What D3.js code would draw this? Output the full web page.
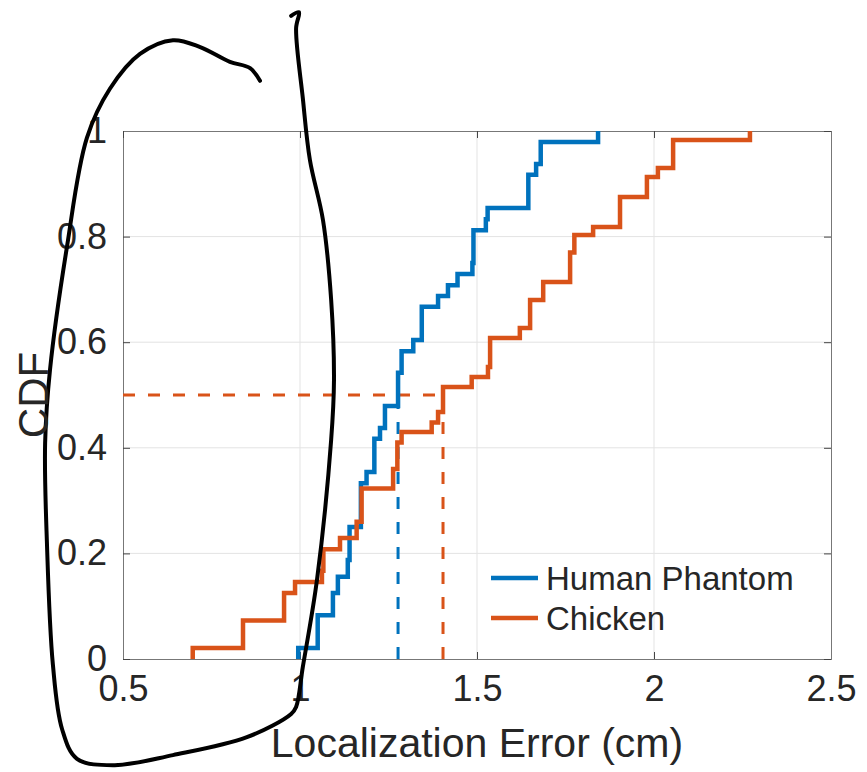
<!DOCTYPE html>
<html>
<head>
<meta charset="utf-8">
<script src="https://cdn.jsdelivr.net/npm/d3@7"></script>
<style>
  html, body { margin: 0; padding: 0; background: #fff; }
  text { font-family: "Liberation Sans", Arial, Helvetica, sans-serif; fill: #262626; }
</style>
</head>
<body>
<div id="chart"></div>
<script>
const phantomSteps = [
    [0.995, 0.021], [1.05, 0.083], [1.093, 0.125], [1.107, 0.156], [1.135, 0.1875],
    [1.14, 0.25], [1.172, 0.333], [1.188, 0.354], [1.21, 0.417], [1.226, 0.4375],
    [1.24, 0.479], [1.277, 0.542], [1.287, 0.583], [1.32, 0.604], [1.344, 0.667],
    [1.39, 0.6875], [1.418, 0.708], [1.445, 0.729], [1.487, 0.75], [1.49, 0.812],
    [1.525, 0.833], [1.53, 0.854], [1.645, 0.917], [1.667, 0.9375], [1.68, 0.979],
    [1.842, 1.0]
];
const chickenSteps = [
    [0.697, 0.021], [0.839, 0.073], [0.955, 0.125], [0.986, 0.146], [1.062, 0.167],
    [1.066, 0.208], [1.113, 0.229], [1.16, 0.26], [1.174, 0.323], [1.263, 0.36],
    [1.275, 0.41], [1.287, 0.43], [1.372, 0.448], [1.39, 0.468], [1.404, 0.515],
    [1.485, 0.534], [1.531, 0.553], [1.537, 0.608], [1.621, 0.627], [1.65, 0.68],
    [1.687, 0.714], [1.763, 0.77], [1.775, 0.803], [1.828, 0.818], [1.904, 0.875],
    [1.98, 0.913], [2.011, 0.93], [2.054, 0.983], [2.271, 1.0]
];
const seriesNames = ["Human Phantom", "Chicken"];
const medians = [1.277, 1.404];   // 50% marks
const xTicks = [0.5, 1, 1.5, 2, 2.5];
const yTicks = [0, 0.2, 0.4, 0.6, 0.8, 1];
const xTickLabels = ["0.5", "1", "1.5", "2", "2.5"];
const yTickLabels = ["0", "0.2", "0.4", "0.6", "0.8", "1"];

// hand-drawn pen stroke over the figure, in axis units
const penStroke = [
    [0.975, 1.218], [0.997, 1.225], [0.989, 1.195], [1.008, 1.062], [1.028, 0.945],
    [1.065, 0.831], [1.088, 0.68], [1.096, 0.528], [1.088, 0.415], [1.048, 0.15],
    [1.008, -0.015], [0.989, -0.091], [0.975, -0.104], [0.85, -0.148], [0.641, -0.182],
    [0.477, -0.201], [0.37, -0.189], [0.328, -0.133], [0.302, -0.011], [0.285, 0.222],
    [0.28, 0.409], [0.294, 0.549], [0.342, 0.782], [0.398, 0.987], [0.463, 1.08],
    [0.548, 1.146], [0.641, 1.172], [0.718, 1.159], [0.802, 1.131], [0.859, 1.119],
    [0.887, 1.095]
];

const colors = ["#0072BD", "#D95319"];
const W = 867, H = 772;
const margin = { top: 131, right: 36, bottom: 113, left: 123 };
const iw = W - margin.left - margin.right;
const ih = H - margin.top - margin.bottom;

const svg = d3.select("#chart").append("svg")
    .attr("width", W)
    .attr("height", H);

svg.append("rect").attr("width", W).attr("height", H).attr("fill", "#fff");

const x = d3.scaleLinear().domain([0.5, 2.5]).range([0, iw]);
const y = d3.scaleLinear().domain([0, 1]).range([ih, 0]);

const g = svg.append("g").attr("transform", `translate(${margin.left},${margin.top})`);

// grid
g.append("g")
    .selectAll("line")
    .data(xTicks.slice(1, -1))
    .join("line")
    .attr("x1", d => x(d)).attr("x2", d => x(d))
    .attr("y1", 0).attr("y2", ih)
    .attr("stroke", "#e3e3e3").attr("stroke-width", 1);
g.append("g")
    .selectAll("line")
    .data(yTicks.slice(1, -1))
    .join("line")
    .attr("y1", d => y(d)).attr("y2", d => y(d))
    .attr("x1", 0).attr("x2", iw)
    .attr("stroke", "#e3e3e3").attr("stroke-width", 1);

// axes (ticks inward, box on)
const tickLen = 7;
const xAxis = d3.axisBottom(x).tickValues(xTicks).tickSize(-tickLen).tickPadding(16)
    .tickFormat((d, i) => xTickLabels[i]);
const yAxis = d3.axisLeft(y).tickValues(yTicks).tickSize(-tickLen).tickPadding(16)
    .tickFormat((d, i) => yTickLabels[i]);

const gx = g.append("g").attr("transform", `translate(0,${ih})`).call(xAxis);
const gy = g.append("g").call(yAxis);
g.append("g").call(d3.axisTop(x).tickValues(xTicks).tickSize(-tickLen).tickFormat(""));
g.append("g").attr("transform", `translate(${iw},0)`)
    .call(d3.axisRight(y).tickValues(yTicks).tickSize(-tickLen).tickFormat(""));

g.selectAll(".domain").attr("stroke", "#777");
g.selectAll(".tick line").attr("stroke", "#444");
gx.selectAll("text").attr("font-size", 36).attr("fill", "#262626")
    .attr("font-family", "Liberation Sans, Arial, sans-serif");
gy.selectAll("text").attr("font-size", 36).attr("fill", "#262626")
    .attr("font-family", "Liberation Sans, Arial, sans-serif");

// median guides
g.append("line")
    .attr("x1", x(0.5)).attr("x2", x(medians[1]))
    .attr("y1", y(0.5)).attr("y2", y(0.5))
    .attr("stroke", colors[1]).attr("stroke-width", 3)
    .attr("stroke-dasharray", "12,13");
medians.forEach((m, i) => {
    g.append("line")
        .attr("x1", x(m)).attr("x2", x(m))
        .attr("y1", y(0)).attr("y2", y(0.5))
        .attr("stroke", colors[i]).attr("stroke-width", 3)
        .attr("stroke-dasharray", "12,13");
});

// CDF stairs
const stairs = d3.line()
    .x(d => x(d[0]))
    .y(d => y(d[1]))
    .curve(d3.curveStepAfter);

[phantomSteps, chickenSteps].forEach((steps, i) => {
    const pts = [[steps[0][0], 0]].concat(steps);
    g.append("path")
        .attr("d", stairs(pts))
        .attr("fill", "none")
        .attr("stroke", colors[i])
        .attr("stroke-width", 4.5)
        .attr("stroke-linejoin", "miter");
});

// legend
const legend = g.append("g");
seriesNames.forEach((name, i) => {
    const ly = 447 + i * 40;
    legend.append("line")
        .attr("x1", 368).attr("x2", 415)
        .attr("y1", ly).attr("y2", ly)
        .attr("stroke", colors[i]).attr("stroke-width", 4.5);
    legend.append("text")
        .attr("x", 423).attr("y", ly + 12)
        .attr("font-size", 33)
        .text(name);
});

// axis labels
svg.append("text")
    .attr("x", margin.left + iw / 2)
    .attr("y", 757)
    .attr("text-anchor", "middle")
    .attr("font-size", 41)
    .text("Localization Error (cm)");

svg.append("text")
    .attr("transform", `translate(48,${margin.top + ih / 2}) rotate(-90)`)
    .attr("text-anchor", "middle")
    .attr("font-size", 42)
    .text("CDF");

// pen annotation
const pen = d3.line()
    .x(d => x(d[0]))
    .y(d => y(d[1]))
    .curve(d3.curveCatmullRom.alpha(0.5));

g.append("path")
    .attr("d", pen(penStroke))
    .attr("fill", "none")
    .attr("stroke", "#000")
    .attr("stroke-width", 4)
    .attr("stroke-linecap", "round")
    .attr("stroke-linejoin", "round");
</script>
</body>
</html>
